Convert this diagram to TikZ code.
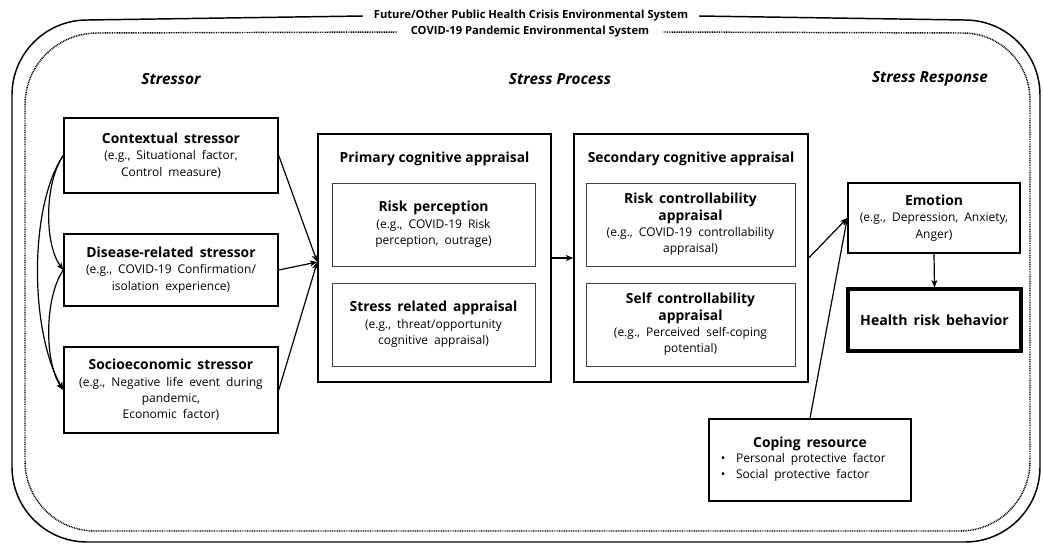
\documentclass[tikz,border=0pt]{standalone}
\usepackage{fontspec}
\setmainfont{Open Sans}
\usepackage{graphicx}
\usetikzlibrary{arrows.meta}
\newcommand\hd[1]{{\fontsize{10.4}{13.5}\selectfont\bfseries #1}}
\newcommand\bodyfont{\fontsize{9}{12.3}\selectfont\spaceskip=0.5em plus 0.1em\relax}
\tikzset{
  box/.style={draw, line width=1.1pt, inner sep=0pt, align=center, font=\bodyfont},
  ibox/.style={draw=black!75, line width=0.7pt, inner sep=0pt, align=center, font=\bodyfont},
  conn/.style={line width=0.9pt, -{Stealth[length=5.5pt,width=4.5pt,inset=1.5pt]}},
  frame/.style={line width=1.1pt},
  dframe/.style={line width=1.1pt, dash pattern=on 0.7pt off 0.6pt},
  sect/.style={font=\fontsize{11.5}{13}\selectfont\bfseries\itshape},
  ttl/.style={font=\fontsize{8.4}{10}\selectfont\bfseries, inner xsep=8pt, inner ysep=1pt},
}
\begin{document}
\begin{tikzpicture}[x=0.75pt,y=-0.75pt]
\useasboundingbox (0,0) rectangle (1043,544);

% titles
\node[ttl] (t1) at (531,16) {Future/Other Public Health Crisis Environmental System};
\node[ttl, inner xsep=10pt] (t2) at (530,32) {COVID-19 Pandemic Environmental System};

% outer solid frame
\draw[frame] (t1.west) -- (87,20) .. controls (45.6,20) and (12,53.6) .. (12,95)
  -- (12,467) .. controls (12,508.4) and (45.6,542) .. (87,542)
  -- (965,542) .. controls (1006.4,542) and (1040,508.4) .. (1040,467)
  -- (1040,95) .. controls (1040,53.6) and (1006.4,20) .. (965,20) -- (t1.east);
% inner dotted frame
\draw[dframe] (t2.west) -- (97,33) .. controls (57.2,33) and (25,65.2) .. (25,105)
  -- (25,461) .. controls (25,499.7) and (56.3,531) .. (95,531)
  -- (960,531) .. controls (998.7,531) and (1030,499.7) .. (1030,461)
  -- (1030,100) .. controls (1030,63) and (1000,33) .. (963,33) -- (t2.east);

% section headings
\node[sect] (h1) at (171,79) {Stressor};
\node[sect] (h2) at (560,79) {Stress Process};
\node[sect] (h3) at (930,79) {Stress Response};

% stressors
\node[box, minimum width=160.5pt, minimum height=56.25pt] (ctx) at (171,155.5)
  {\hd{Contextual stressor}\\(e.g., Situational factor,\\Control measure)};
\node[box, minimum width=160.5pt, minimum height=54pt] (dis) at (171,270)
  {\hd{Disease-related stressor}\\(e.g., COVID-19 Confirmation/\\isolation experience)};
\node[box, minimum width=160.5pt, minimum height=64.5pt] (soc) at (171,390)
  {\hd{Socioeconomic stressor}\\(e.g., Negative life event during\\pandemic,\\Economic factor)};

% primary
\node[box, minimum width=174.75pt, minimum height=186pt] (prim) at (434.5,258) {};
\node[font=\fontsize{10.4}{12}\selectfont\bfseries] (primt) at (434.5,159) {Primary cognitive appraisal};
\node[ibox, minimum width=152.25pt, minimum height=62.25pt] (rp) at (433.5,224.5)
  {\hd{Risk perception}\\(e.g., COVID-19 Risk\\perception, outrage)};
\node[ibox, minimum width=152.25pt, minimum height=62.25pt] (sr) at (433.5,324.5)
  {\hd{Stress related appraisal}\\(e.g., threat/opportunity\\cognitive appraisal)};

% secondary
\node[box, minimum width=175.5pt, minimum height=186pt] (sec) at (691,258) {};
\node[font=\fontsize{10.4}{12}\selectfont\bfseries] (sect) at (691,159) {Secondary cognitive appraisal};
\node[ibox, minimum width=156.75pt, minimum height=62.25pt] (rc) at (690.5,224.5)
  {\hd{Risk controllability}\\\hd{appraisal}\\(e.g., COVID-19 controllability\\appraisal)};
\node[ibox, minimum width=156.75pt, minimum height=62.25pt] (sc) at (690.5,324.5)
  {\hd{Self controllability}\\\hd{appraisal}\\(e.g., Perceived self-coping\\potential)};

% response
\node[box, minimum width=129pt, minimum height=52.5pt] (emo) at (934,218)
  {\hd{Emotion}\\(e.g., Depression, Anxiety,\\Anger)};
\node[box, line width=2.4pt, minimum width=129.75pt, minimum height=46.5pt] (hrb) at (934.5,320)
  {\fontsize{10.6}{12}\selectfont\bfseries Health risk behavior};
\node[box, minimum width=151.5pt, minimum height=61.5pt] (cop) at (810,460)
  {\begin{tabular}{@{}l@{\hspace{8pt}}l@{\hspace{10pt}}}\multicolumn{2}{@{}c@{}}{\hd{Coping resource}}\\[-1.5pt]
   \textbullet & Personal protective factor\\ \textbullet & Social protective factor\end{tabular}};

% connectors
\coordinate (pin) at ([yshift=-3pt]prim.west);
\draw[conn] (ctx.west) .. controls +(-19,28) and +(-19,-26) .. (dis.west);
\draw[conn] (ctx.west) .. controls +(-34,50) and +(-34,-60) .. (soc.west);
\draw[conn] (dis.west) .. controls +(-19,28) and +(-19,-28) .. (soc.west);
\draw[conn] (ctx.east) -- (pin);
\draw[conn] (dis.east) -- (pin);
\draw[conn] (soc.east) -- (pin);
\draw[conn] (prim.east) -- (sec.west);
\draw[conn] (sec.east) -- (emo.west);
\draw[conn] (cop.north) -- (emo.west);
\draw[conn] (emo.south) -- (hrb.north);
\end{tikzpicture}
\end{document}
